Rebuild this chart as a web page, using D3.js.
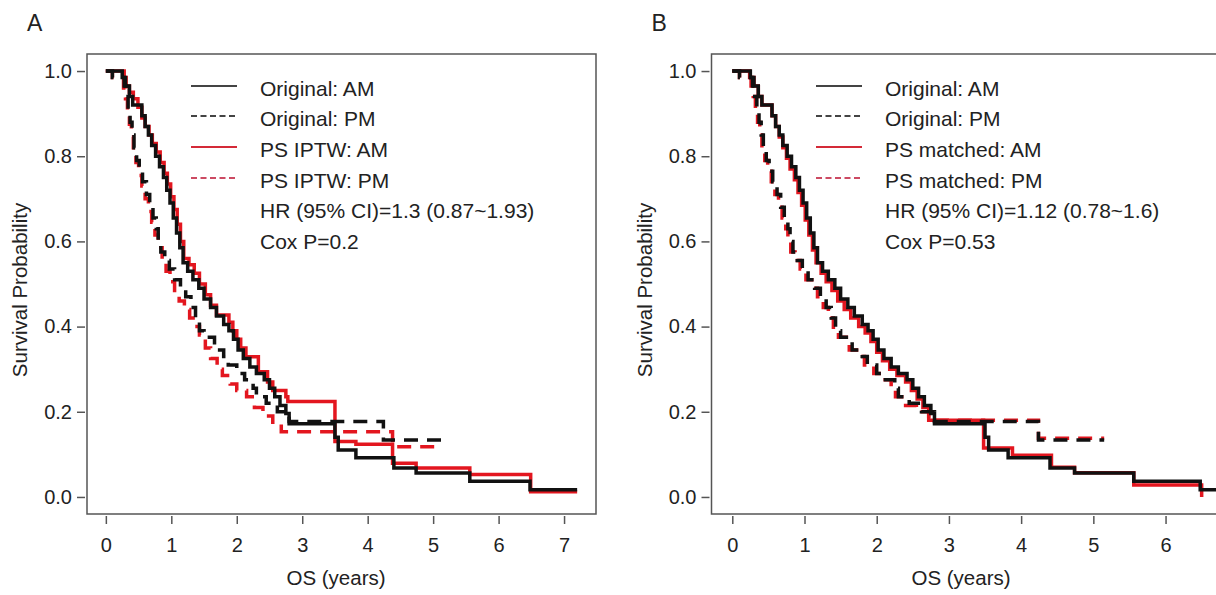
<!DOCTYPE html>
<html>
<head>
<meta charset="utf-8">
<script src="https://cdn.jsdelivr.net/npm/d3@7"></script>
<style>
  body { margin: 0; background: #fff; }
  svg { display: block; font-family: "Liberation Sans", Arial, sans-serif; }
</style>
</head>
<body>
<div id="chart"></div>
<script>
// tick values
var xTicksA = [0, 1, 2, 3, 4, 5, 6, 7];
var xTicksB = [0, 1, 2, 3, 4, 5, 6];
var yTicks = [0, 0.2, 0.4, 0.6, 0.8, 1.0];

// Original: AM (same curve in both panels)
var origAMTime = [0, 0.25, 0.3, 0.36, 0.41, 0.55, 0.6, 0.65, 0.7, 0.76, 0.82, 0.88, 0.93, 0.98, 1.03, 1.08, 1.13, 1.18, 1.25, 1.33, 1.42, 1.5, 1.6, 1.69, 1.8, 1.88, 1.95, 2.02, 2.1, 2.2, 2.3, 2.42, 2.5, 2.58, 2.66, 2.75, 2.8, 3.5, 3.55, 3.82, 4.4, 4.74, 5.56, 6.48, 7.2];
var origAMSurv = [1, 0.985, 0.965, 0.94, 0.92, 0.895, 0.87, 0.85, 0.825, 0.8, 0.775, 0.75, 0.72, 0.69, 0.655, 0.62, 0.585, 0.55, 0.53, 0.51, 0.49, 0.465, 0.445, 0.425, 0.405, 0.39, 0.37, 0.345, 0.325, 0.305, 0.29, 0.275, 0.255, 0.235, 0.215, 0.196, 0.172, 0.14, 0.11, 0.092, 0.068, 0.056, 0.037, 0.017, 0.017];

// Original: PM
var origPMTime = [0, 0.1, 0.28, 0.31, 0.34, 0.37, 0.4, 0.43, 0.47, 0.51, 0.56, 0.62, 0.67, 0.72, 0.77, 0.8, 0.84, 0.9, 0.97, 1.05, 1.14, 1.22, 1.3, 1.37, 1.43, 1.5, 1.66, 1.8, 1.87, 2.0, 2.12, 2.25, 2.3, 2.45, 2.62, 2.8, 4.24, 5.15];
var origPMSurv = [1, 0.985, 0.965, 0.94, 0.91, 0.88, 0.85, 0.82, 0.79, 0.765, 0.74, 0.71, 0.68, 0.655, 0.63, 0.6, 0.575, 0.555, 0.535, 0.51, 0.49, 0.47, 0.445, 0.42, 0.39, 0.375, 0.345, 0.33, 0.31, 0.29, 0.275, 0.255, 0.235, 0.22, 0.2, 0.177, 0.134, 0.134];

// PS IPTW: AM
var iptwAMTime = [0, 0.28, 0.31, 0.36, 0.42, 0.49, 0.55, 0.6, 0.66, 0.71, 0.77, 0.83, 0.89, 0.94, 0.99, 1.04, 1.09, 1.14, 1.19, 1.27, 1.35, 1.43, 1.52, 1.6, 1.69, 1.88, 1.94, 2.0, 2.06, 2.14, 2.33, 2.47, 2.55, 2.75, 2.78, 3.5, 3.82, 4.38, 4.74, 5.56, 6.49, 7.2];
var iptwAMSurv = [1, 0.985, 0.965, 0.95, 0.935, 0.915, 0.89, 0.87, 0.85, 0.83, 0.81, 0.785, 0.76, 0.735, 0.705, 0.675, 0.64, 0.6, 0.56, 0.545, 0.525, 0.5, 0.475, 0.45, 0.427, 0.41, 0.39, 0.37, 0.35, 0.329, 0.294, 0.27, 0.25, 0.235, 0.224, 0.13, 0.124, 0.079, 0.068, 0.053, 0.012, 0.012];

// PS IPTW: PM
var iptwPMTime = [0, 0.1, 0.27, 0.3, 0.33, 0.36, 0.39, 0.42, 0.46, 0.5, 0.55, 0.6, 0.65, 0.7, 0.75, 0.8, 0.86, 0.92, 0.98, 1.05, 1.12, 1.2, 1.28, 1.36, 1.43, 1.52, 1.6, 1.7, 1.78, 1.9, 2.0, 2.15, 2.27, 2.4, 2.55, 2.68, 4.38, 5.1];
var iptwPMSurv = [1, 0.985, 0.96, 0.935, 0.905, 0.875, 0.845, 0.815, 0.785, 0.755, 0.73, 0.7, 0.67, 0.645, 0.615, 0.585, 0.555, 0.53, 0.505, 0.48, 0.46, 0.44, 0.42, 0.4, 0.38, 0.35, 0.325, 0.3, 0.285, 0.265, 0.25, 0.235, 0.21, 0.19, 0.17, 0.153, 0.118, 0.118];

// PS matched: AM
var matchAMTime = [0, 0.24, 0.3, 0.36, 0.41, 0.55, 0.6, 0.65, 0.7, 0.75, 0.8, 0.86, 0.91, 0.96, 1.01, 1.06, 1.11, 1.16, 1.23, 1.3, 1.38, 1.46, 1.55, 1.64, 1.75, 1.84, 1.92, 2.0, 2.08, 2.18, 2.28, 2.4, 2.48, 2.56, 2.64, 2.72, 3.48, 3.88, 4.42, 4.74, 5.56, 6.5];
var matchAMSurv = [1, 0.985, 0.965, 0.94, 0.92, 0.895, 0.87, 0.845, 0.82, 0.795, 0.77, 0.745, 0.715, 0.685, 0.65, 0.615, 0.58, 0.55, 0.525, 0.505, 0.485, 0.46, 0.44, 0.42, 0.4, 0.385, 0.365, 0.34, 0.32, 0.3, 0.285, 0.27, 0.25, 0.23, 0.21, 0.18, 0.115, 0.098, 0.07, 0.057, 0.028, 0];

// PS matched: PM
var matchPMTime = [0, 0.1, 0.26, 0.29, 0.32, 0.35, 0.38, 0.41, 0.45, 0.49, 0.54, 0.59, 0.64, 0.69, 0.74, 0.77, 0.81, 0.87, 0.94, 1.02, 1.1, 1.18, 1.26, 1.33, 1.4, 1.47, 1.62, 1.76, 1.83, 1.96, 2.08, 2.2, 2.26, 2.4, 2.55, 2.72, 4.24, 5.15];
var matchPMSurv = [1, 0.985, 0.965, 0.94, 0.91, 0.88, 0.85, 0.82, 0.79, 0.765, 0.74, 0.71, 0.68, 0.655, 0.63, 0.6, 0.575, 0.555, 0.535, 0.51, 0.49, 0.47, 0.445, 0.42, 0.39, 0.375, 0.345, 0.33, 0.31, 0.29, 0.275, 0.255, 0.235, 0.215, 0.2, 0.18, 0.138, 0.138];

var legendA = ["Original: AM", "Original: PM", "PS IPTW: AM", "PS IPTW: PM"];
var legendB = ["Original: AM", "Original: PM", "PS matched: AM", "PS matched: PM"];
var statsA = ["HR (95% CI)=1.3 (0.87~1.93)", "Cox P=0.2"];
var statsB = ["HR (95% CI)=1.12 (0.78~1.6)", "Cox P=0.53"];

var RED = "#e3161f";
var BLACK = "#111";
var width = 1216, height = 595;

function zip(t, s) {
    return t.map((d, i) => ({t: d, s: s[i]}));
}

var svg = d3.select("#chart").append("svg")
    .attr("width", width)
    .attr("height", height);

function drawPanel(cfg) {
    var xScale = d3.scaleLinear()
        .domain([-0.288, 7.488])
        .range([cfg.x0, cfg.x1]);
    var yScale = d3.scaleLinear()
        .domain([-0.04, 1.04])
        .range([514, 54]);

    var g = svg.append("g");

    // panel letter
    g.append("text")
        .attr("x", cfg.x0 - 60)
        .attr("y", 31)
        .style("font-size", "23px")
        .attr("fill", "#222")
        .text(cfg.letter);

    // frame
    g.append("rect")
        .attr("x", cfg.x0)
        .attr("y", 54)
        .attr("width", cfg.x1 - cfg.x0)
        .attr("height", 460)
        .attr("fill", "none")
        .attr("stroke", "#555")
        .attr("stroke-width", 1.5);

    var xAxis = d3.axisBottom(xScale)
        .tickValues(cfg.xTicks)
        .tickFormat(d3.format("d"))
        .tickSize(8)
        .tickPadding(14);

    var yAxis = d3.axisLeft(yScale)
        .tickValues(yTicks)
        .tickFormat(d3.format(".1f"))
        .tickSize(8)
        .tickPadding(5);

    var gx = g.append("g")
        .attr("transform", "translate(0,516)")
        .call(xAxis);
    gx.select(".domain").remove();

    var gy = g.append("g")
        .attr("transform", "translate(" + (cfg.x0 - 2) + ",0)")
        .call(yAxis);
    gy.select(".domain").remove();

    [gx, gy].forEach(function(a) {
        a.selectAll("line").attr("stroke", "#555").attr("stroke-width", 1.5);
        a.selectAll("text")
            .attr("fill", "#222")
            .style("font-size", "20px")
            .style("font-family", "'Liberation Sans', Arial, sans-serif");
    });

    g.append("text")
        .attr("x", cfg.titleX)
        .attr("y", 585)
        .style("text-anchor", "middle")
        .style("font-size", "20.5px")
        .attr("fill", "#222")
        .text("OS (years)");

    g.append("text")
        .attr("transform", "rotate(-90)")
        .attr("x", -290)
        .attr("y", cfg.x0 - 60)
        .style("text-anchor", "middle")
        .style("font-size", "20.5px")
        .attr("fill", "#222")
        .text("Survival Probability");

    var lineGen = d3.line()
        .curve(d3.curveStepAfter)
        .x(d => xScale(d.t))
        .y(d => yScale(d.s));

    // red first, black on top
    cfg.curves.forEach(function(c) {
        g.append("path")
            .attr("d", lineGen(c.data))
            .attr("fill", "none")
            .attr("stroke", c.color)
            .attr("stroke-width", 3.5)
            .attr("stroke-dasharray", c.dashed ? "14,9" : null);
    });

    // legend
    var rowY = [86, 116, 147, 178];
    var legendStyles = [
        {color: "#444", dashed: false},
        {color: "#444", dashed: true},
        {color: "#d42a38", dashed: false},
        {color: "#cc4a62", dashed: true}
    ];
    var legend = g.selectAll(".legend")
        .data(cfg.legend)
        .enter().append("g")
        .attr("class", "legend");

    legend.append("line")
        .attr("x1", cfg.legX)
        .attr("x2", cfg.legX + 46)
        .attr("y1", (d, i) => rowY[i])
        .attr("y2", (d, i) => rowY[i])
        .attr("stroke", (d, i) => legendStyles[i].color)
        .attr("stroke-width", 1.8)
        .attr("stroke-dasharray", (d, i) => legendStyles[i].dashed ? "6,3.5" : null);

    legend.append("text")
        .attr("x", cfg.legX + 69)
        .attr("y", (d, i) => rowY[i] + 3)
        .attr("dy", "0.35em")
        .style("font-size", "21px")
        .attr("fill", "#222")
        .text(d => d);

    g.selectAll(".stat")
        .data(cfg.stats)
        .enter().append("text")
        .attr("class", "stat")
        .attr("x", cfg.legX + 69)
        .attr("y", (d, i) => 211 + i * 31)
        .attr("dy", "0.35em")
        .style("font-size", "21px")
        .attr("fill", "#222")
        .text(d => d);
}

drawPanel({
    letter: "A",
    x0: 87, x1: 596,
    titleX: 336,
    xTicks: xTicksA,
    legX: 191,
    legend: legendA,
    stats: statsA,
    curves: [
        {data: zip(iptwAMTime, iptwAMSurv), color: RED, dashed: false},
        {data: zip(iptwPMTime, iptwPMSurv), color: RED, dashed: true},
        {data: zip(origAMTime, origAMSurv), color: BLACK, dashed: false},
        {data: zip(origPMTime, origPMSurv), color: BLACK, dashed: true}
    ]
});

drawPanel({
    letter: "B",
    x0: 711.5, x1: 1273,
    titleX: 961,
    xTicks: xTicksB,
    legX: 816,
    legend: legendB,
    stats: statsB,
    curves: [
        {data: zip(matchAMTime, matchAMSurv), color: RED, dashed: false},
        {data: zip(matchPMTime, matchPMSurv), color: RED, dashed: true},
        {data: zip(origAMTime, origAMSurv), color: BLACK, dashed: false},
        {data: zip(origPMTime, origPMSurv), color: BLACK, dashed: true}
    ]
});
</script>
</body>
</html>
